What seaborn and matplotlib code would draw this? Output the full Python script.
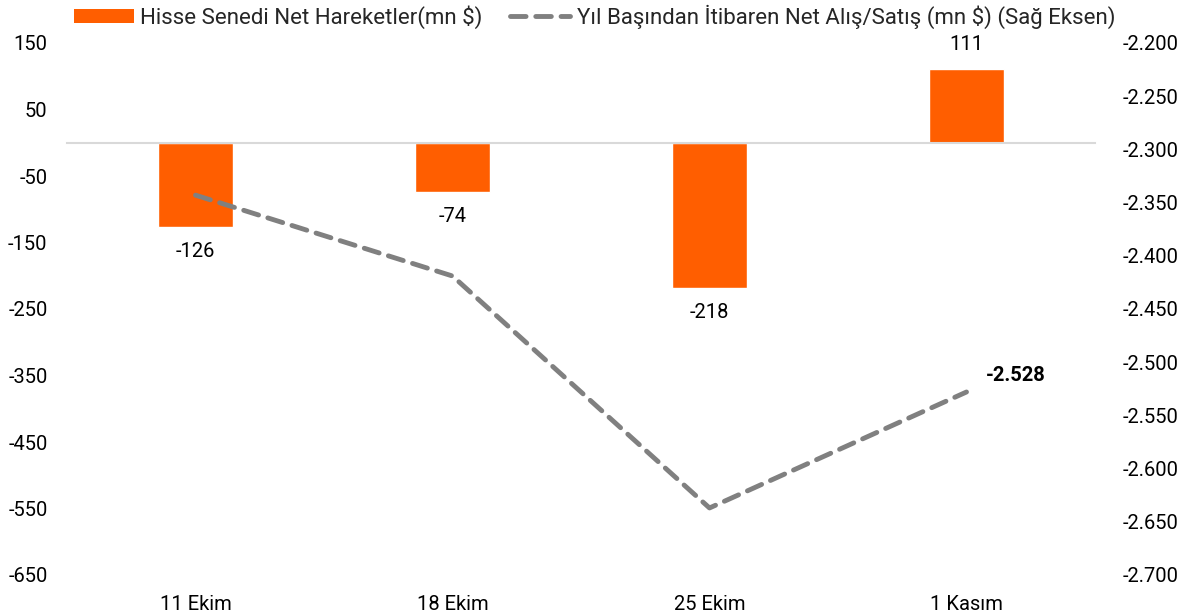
import matplotlib
matplotlib.use("Agg")
import matplotlib.pyplot as plt
import seaborn as sns
import pandas as pd
from matplotlib.lines import Line2D
from matplotlib.patches import Patch
import matplotlib.transforms as mtransforms

categories = ["11 Ekim", "18 Ekim", "25 Ekim", "1 Kasım"]
net_moves = [-126, -74, -218, 111]
ytd_net = [-2.343, -2.419, -2.637, -2.528]
left_ticks = [-650, -550, -450, -350, -250, -150, -50, 50, 150]
right_ticks = [-2.700, -2.650, -2.600, -2.550, -2.500, -2.450, -2.400, -2.350, -2.300, -2.250, -2.200]
bar_label_name = "Hisse Senedi Net Hareketler(mn $)"
line_label_name = "Yıl Başından İtibaren Net Alış/Satış (mn $) (Sağ Eksen)"

sns.set_theme(style="white")
plt.rcParams["font.family"] = ["Roboto", "DejaVu Sans"]

ORANGE = "#FF5E00"
GRAY = "#808080"

fig = plt.figure(figsize=(11.89, 6.16), dpi=100)
ax = fig.add_axes([67/1189, 1 - 575/616, (1095-67)/1189, (575-43)/616])

df = pd.DataFrame({"cat": categories, "val": net_moves})
sns.barplot(data=df, x="cat", y="val", color=ORANGE, width=0.29, ax=ax,
            saturation=1, zorder=2)
ax.set_xlim(-0.5, 3.5)
ax.set_ylim(-650, 150)
ax.set_yticks(left_ticks)
ax.set_yticklabels([str(t) for t in left_ticks])
ax.tick_params(axis="y", length=0, labelsize=14.5, pad=14, colors="black")
ax.set_xlabel("")
ax.set_ylabel("")

for s in ["top", "right", "left"]:
    ax.spines[s].set_visible(False)
ax.spines["bottom"].set_position(("data", 0))
ax.spines["bottom"].set_color("#d9d9d9")
ax.spines["bottom"].set_linewidth(1.5)
ax.spines["bottom"].set_zorder(3)
ax.set_xticks([i for i in range(len(categories))])
ax.set_xticklabels([])
ax.tick_params(axis="x", which="major", length=0)
ax.set_xticks([i - 0.5 for i in range(len(categories) + 1)], minor=True)
ax.tick_params(axis="x", which="minor", length=5, width=1.5, color="#d9d9d9", direction="out")

trans = mtransforms.blended_transform_factory(ax.transData, ax.transAxes)
for i, c in enumerate(categories):
    ax.text(i, -0.056, c, transform=trans, ha="center", va="center", fontsize=14.5, color="black")

for cont in ax.containers:
    ax.bar_label(cont, labels=[str(v) for v in net_moves], padding=11, fontsize=14.5, color="black")

ax2 = ax.twinx()
sns.lineplot(x=list(range(len(categories))), y=ytd_net, ax=ax2, color=GRAY,
             linewidth=3.5, linestyle=(0, (3.2, 2.0)), dash_capstyle="round", zorder=4)
ax2.set_ylim(-2.7, -2.2)
ax2.set_yticks(right_ticks)
ax2.set_yticklabels([f"{t:.3f}" for t in right_ticks])
ax2.tick_params(axis="y", length=0, labelsize=14.5, pad=20, colors="black")
for s in ["top", "right", "left", "bottom"]:
    ax2.spines[s].set_visible(False)
ax2.set_ylabel("")
ax2.annotate(f"{ytd_net[-1]:.3f}", xy=(3, ytd_net[-1]), xytext=(14, 12),
             textcoords="offset points", ha="left", va="center",
             fontsize=14.5, fontweight="bold", color="black")

handles = [Patch(facecolor=ORANGE, edgecolor="none"),
           Line2D([0], [0], color=GRAY, linewidth=3.5, linestyle=(0, (3.2, 2.0)), dash_capstyle="round")]
fig.legend(handles, [bar_label_name, line_label_name], loc="upper center",
           bbox_to_anchor=(0.5, 1.025), ncol=2, frameon=False, fontsize=16,
           handlelength=2.7, handleheight=0.55, columnspacing=1.25, handletextpad=0.3)

fig.savefig("out.png", dpi=100)
